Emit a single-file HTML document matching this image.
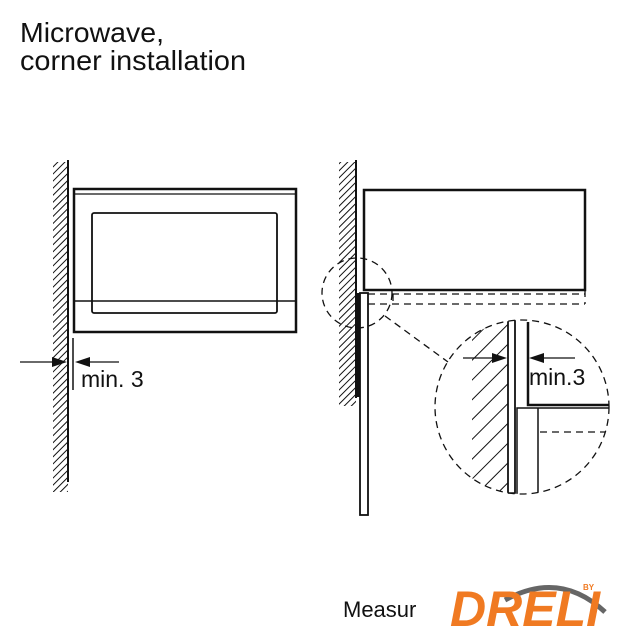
<!DOCTYPE html>
<html><head><meta charset="utf-8"><style>html,body{margin:0;padding:0;background:#fff}svg{display:block}</style></head>
<body>
<svg width="640" height="640" viewBox="0 0 640 640" xmlns="http://www.w3.org/2000/svg" font-family="Liberation Sans, sans-serif">
<defs>
<pattern id="h" patternUnits="userSpaceOnUse" width="5" height="5" patternTransform="rotate(45)">
<line x1="0" y1="0" x2="0" y2="5" stroke="#111" stroke-width="2"/>
</pattern>
<pattern id="h2" patternUnits="userSpaceOnUse" width="14" height="14" patternTransform="rotate(45)">
<line x1="0" y1="0" x2="0" y2="14" stroke="#111" stroke-width="2"/>
</pattern>
<clipPath id="bc"><circle cx="522" cy="407" r="87"/></clipPath>
</defs>
<text x="20" y="42" font-size="28" fill="#111" textLength="144" lengthAdjust="spacingAndGlyphs">Microwave,</text>
<text x="20" y="70" font-size="28" fill="#111" textLength="226" lengthAdjust="spacingAndGlyphs">corner installation</text>

<!-- left figure -->
<rect x="53" y="162" width="15" height="330" fill="url(#h)"/>
<line x1="68" y1="160" x2="68" y2="482" stroke="#111" stroke-width="2"/>
<rect x="74" y="189" width="222" height="143" fill="none" stroke="#111" stroke-width="2.5"/>
<line x1="74" y1="194" x2="296" y2="194" stroke="#111" stroke-width="1.2"/>
<rect x="92" y="213" width="185" height="100" rx="2" fill="none" stroke="#111" stroke-width="1.8"/>
<line x1="74" y1="301" x2="296" y2="301" stroke="#111" stroke-width="1.5"/>
<line x1="73" y1="338" x2="73" y2="390" stroke="#111" stroke-width="1.5"/>
<line x1="20" y1="362" x2="58" y2="362" stroke="#111" stroke-width="1.3"/>
<polygon points="67,362 52,357 52,367" fill="#111"/>
<line x1="84" y1="362" x2="119" y2="362" stroke="#111" stroke-width="1.3"/>
<polygon points="75,362 90,357 90,367" fill="#111"/>
<text x="81" y="387" font-size="23" fill="#111">min. 3</text>

<!-- right figure -->
<rect x="339" y="162" width="17" height="244" fill="url(#h)"/>
<line x1="356" y1="160" x2="356" y2="398" stroke="#111" stroke-width="2"/>
<rect x="356" y="293" width="4" height="104" fill="#111"/>
<rect x="360" y="293" width="8" height="222" fill="#fff" stroke="#111" stroke-width="1.8"/>
<rect x="364" y="190" width="221" height="100" fill="none" stroke="#111" stroke-width="2.5"/>
<g stroke="#111" stroke-width="1.3" stroke-dasharray="7,5" fill="none">
<line x1="368" y1="294" x2="585" y2="294"/>
<line x1="368" y1="304" x2="585" y2="304"/>
<line x1="393" y1="294" x2="393" y2="304"/>
<line x1="585" y1="290" x2="585" y2="304"/>
<circle cx="357" cy="293" r="35"/>
<line x1="385" y1="316" x2="448" y2="362"/>
<circle cx="522" cy="407" r="87"/>
</g>
<g clip-path="url(#bc)">
<rect x="472" y="318" width="36" height="180" fill="url(#h2)"/>
<line x1="508" y1="318" x2="508" y2="497" stroke="#111" stroke-width="1.8"/>
<line x1="515" y1="318" x2="515" y2="497" stroke="#111" stroke-width="1.8"/>
<polyline points="528,322 528,405 612,405" fill="none" stroke="#111" stroke-width="2.5"/>
<polyline points="517,494 517,408 612,408" fill="none" stroke="#111" stroke-width="1.5"/>
<line x1="538" y1="408" x2="538" y2="493" stroke="#111" stroke-width="1.5"/>
<line x1="540" y1="432" x2="608" y2="432" stroke="#111" stroke-width="1.3" stroke-dasharray="7,5"/>
</g>
<line x1="508" y1="493" x2="515" y2="493" stroke="#111" stroke-width="1.5"/>
<line x1="463" y1="358" x2="497" y2="358" stroke="#111" stroke-width="1.3"/>
<polygon points="507,358 492,353 492,363" fill="#111"/>
<line x1="540" y1="358" x2="575" y2="358" stroke="#111" stroke-width="1.3"/>
<polygon points="529,358 544,353 544,363" fill="#111"/>
<text x="529" y="385" font-size="23" fill="#111">min.3</text>

<!-- footer -->
<text x="343" y="617" font-size="22" fill="#111">Measur</text>
<rect x="438" y="575" width="180" height="55" fill="#fff"/>
<path d="M505 600 Q560 570 605 612" fill="none" stroke="#666" stroke-width="5"/>
<text x="450" y="626" font-size="50" font-weight="bold" font-style="italic" fill="#f07a22" textLength="150" lengthAdjust="spacingAndGlyphs">DRELI</text>
<text x="583" y="590" font-size="8" font-weight="bold" fill="#f07a22">BY</text>
</svg>
</body></html>
